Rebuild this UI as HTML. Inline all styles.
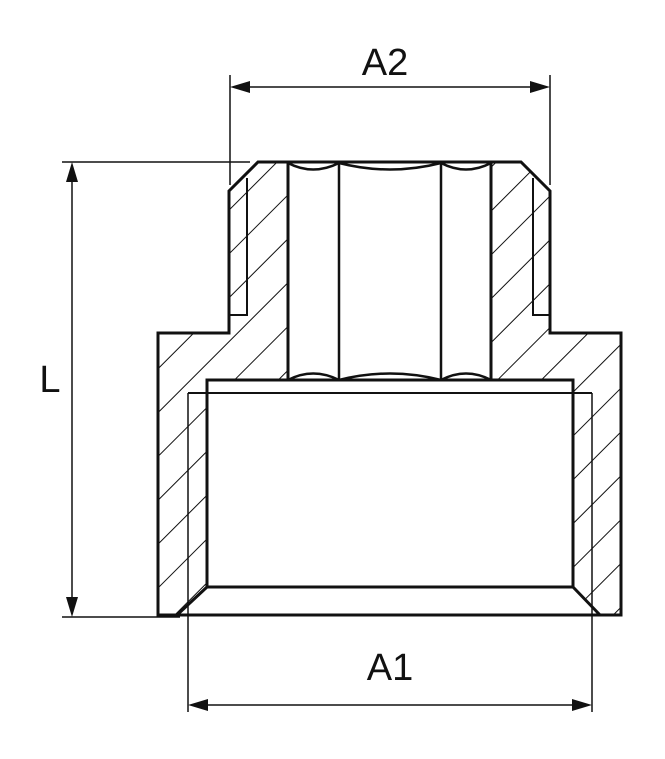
<!DOCTYPE html>
<html><head><meta charset="utf-8"><style>
html,body{margin:0;padding:0;background:#fff;}
svg{display:block;}
text{font-family:"Liberation Sans",sans-serif;font-size:38px;fill:#111;}
</style></head><body>
<svg width="665" height="759" viewBox="0 0 665 759" xmlns="http://www.w3.org/2000/svg">
<defs>
<pattern id="h" patternUnits="userSpaceOnUse" width="31" height="31" patternTransform="rotate(-45)">
<line x1="0" y1="0" x2="31" y2="0" stroke="#111" stroke-width="2"/>
</pattern>
<clipPath id="body"><polygon points="258,162 521,162 550,191 550,333 621,333 621,615 158,615 158,333 229,333 229,191"/></clipPath>
</defs>
<g clip-path="url(#body)">
<rect x="150" y="150" width="480" height="480" fill="url(#h)"/>
<rect x="288" y="162" width="203" height="220" fill="#fff"/>
<polygon points="207,380 573,380 573,587 600,615 177,615 207,587" fill="#fff"/>
</g>
<g fill="none" stroke="#111" stroke-linejoin="miter">
<polygon points="258,162 521,162 550,191 550,333 621,333 621,615 158,615 158,333 229,333 229,191" stroke-width="3"/>
<line x1="288" y1="162" x2="288" y2="380" stroke-width="3"/>
<line x1="491" y1="162" x2="491" y2="380" stroke-width="3"/>
<line x1="339" y1="162" x2="339" y2="380" stroke-width="2.5"/>
<line x1="441" y1="162" x2="441" y2="380" stroke-width="2.5"/>
<path d="M288,163 Q313,176 339,163 Q390,176 441,163 Q466,176 491,163" stroke-width="2.5"/>
<path d="M288,380 Q313,367 339,380 Q390,367 441,380 Q466,367 491,380" stroke-width="2.5"/>
<polyline points="247,178 247,315 229,315" stroke-width="2"/>
<polyline points="533,178 533,315 550,315" stroke-width="2"/>
<rect x="207" y="380" width="366" height="207" stroke-width="3"/>
<line x1="188" y1="393" x2="592" y2="393" stroke-width="2"/>
<line x1="188" y1="393" x2="188" y2="712" stroke-width="1.5"/>
<line x1="592" y1="393" x2="592" y2="712" stroke-width="1.5"/>
<line x1="207" y1="587" x2="177" y2="615" stroke-width="3"/>
<line x1="573" y1="587" x2="600" y2="615" stroke-width="3"/>
<line x1="230" y1="75" x2="230" y2="185" stroke-width="1.5"/>
<line x1="550" y1="75" x2="550" y2="185" stroke-width="1.5"/>
<line x1="240" y1="87" x2="540" y2="87" stroke-width="1.5"/>
<line x1="62" y1="162" x2="250" y2="162" stroke-width="1.5"/>
<line x1="62" y1="617" x2="180" y2="617" stroke-width="1.5"/>
<line x1="72" y1="172" x2="72" y2="607" stroke-width="1.5"/>
<line x1="198" y1="705" x2="582" y2="705" stroke-width="1.5"/>
</g>
<g fill="#111">
<polygon points="230,87 250,81 250,93"/>
<polygon points="550,87 530,81 530,93"/>
<polygon points="72,162 66,182 78,182"/>
<polygon points="72,617 66,597 78,597"/>
<polygon points="188,705 208,699 208,711"/>
<polygon points="592,705 572,699 572,711"/>
</g>
<text x="385" y="75" text-anchor="middle">A2</text>
<text x="50" y="392" text-anchor="middle">L</text>
<text x="390" y="680" text-anchor="middle">A1</text>
</svg>
</body></html>
